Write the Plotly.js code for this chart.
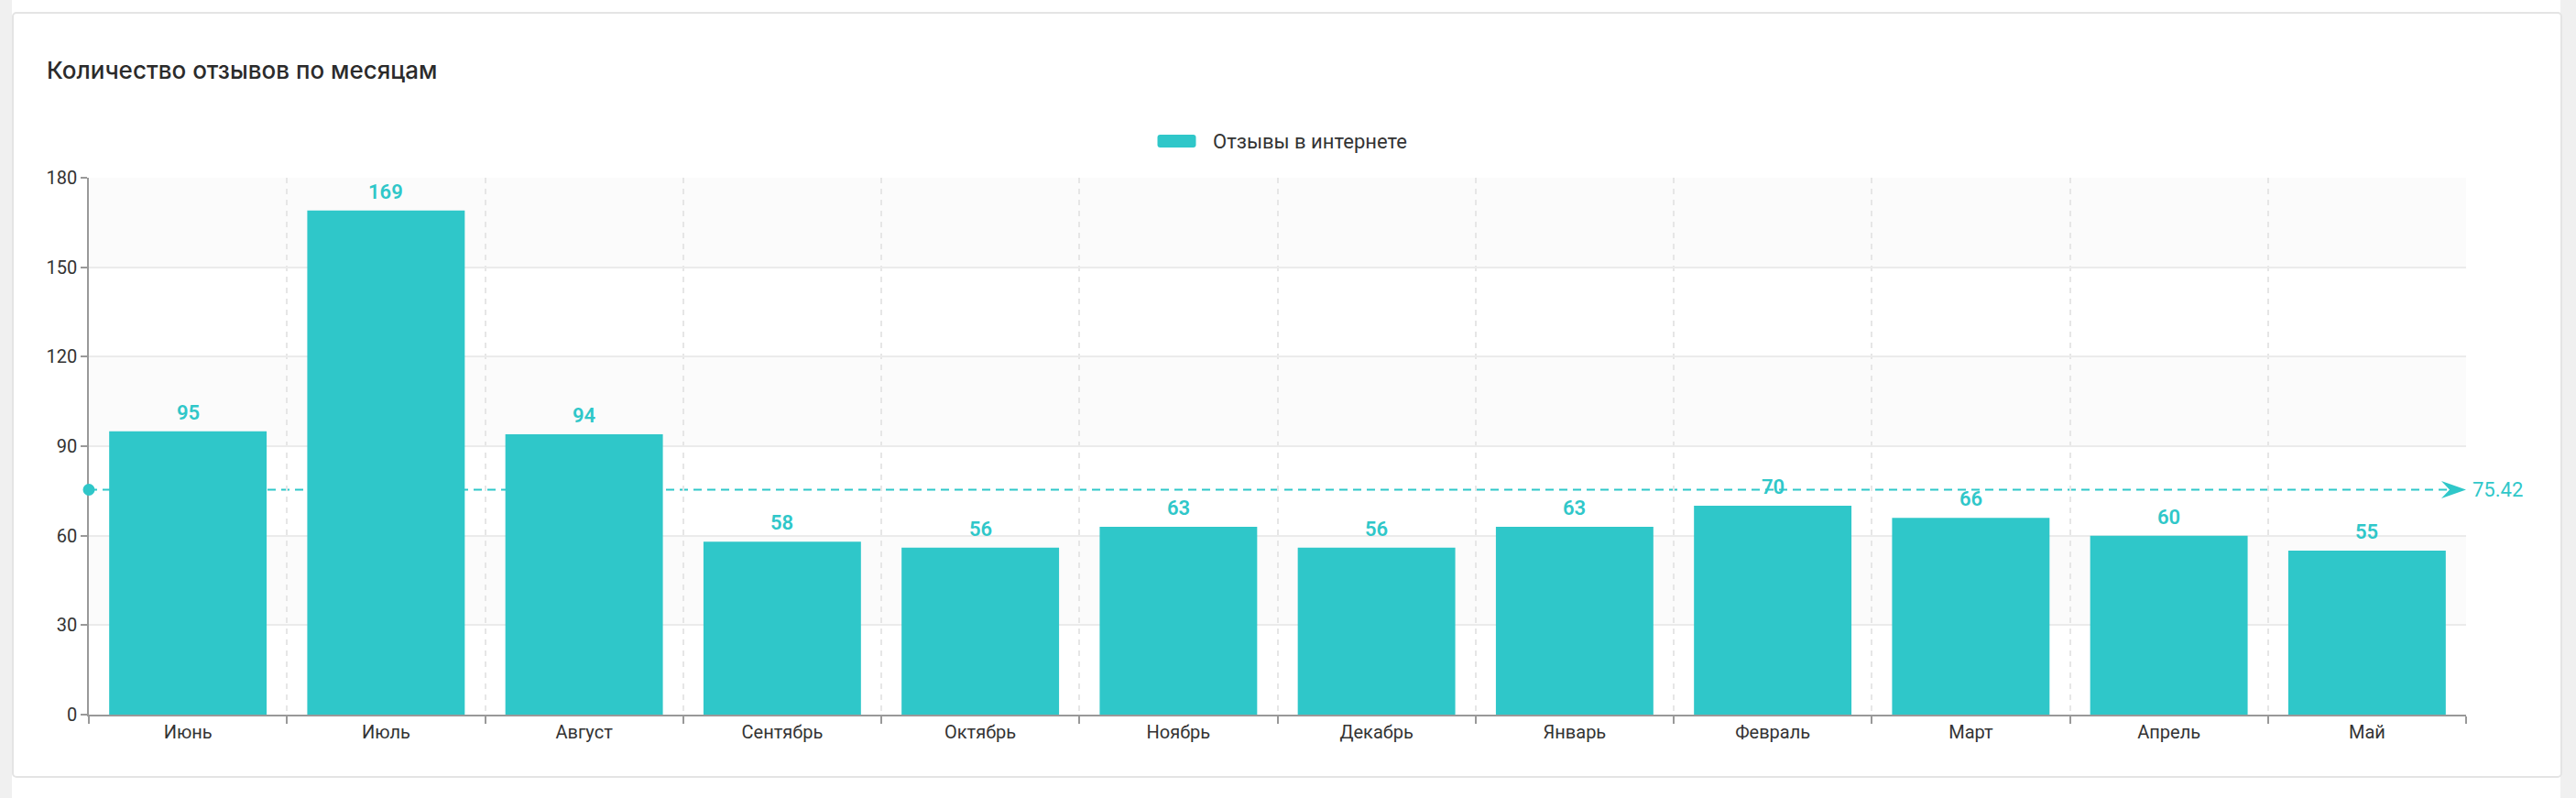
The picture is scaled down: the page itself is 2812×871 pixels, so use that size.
<!DOCTYPE html>
<html>
<head>
<meta charset="utf-8">
<script src="https://cdn.plot.ly/plotly-3.0.1.min.js"></script>
<style>
  html, body { margin: 0; padding: 0; width: 2812px; height: 871px; background: #ffffff; overflow: hidden; }
  #stripL { position: absolute; left: 0; top: 0; width: 13px; height: 871px; background: #f0f0f0; }
  #stripR { position: absolute; left: 2795px; top: 0; width: 17px; height: 871px; background: #f0f0f0; }
  #card { position: absolute; left: 13px; top: 13px; width: 2780px; height: 832px; background: #fff;
          border: 2px solid #e4e4e4; border-radius: 5px; }
  #chart { position: absolute; left: 0; top: 0; width: 2812px; height: 871px; }
</style>
</head>
<body>
<div id="stripL"></div>
<div id="stripR"></div>
<div id="card"></div>
<div id="chart"></div>
<script>
const months = ["Июнь", "Июль", "Август", "Сентябрь", "Октябрь", "Ноябрь", "Декабрь", "Январь", "Февраль", "Март", "Апрель", "Май"];
const reviews = [95, 169, 94, 58, 56, 63, 56, 63, 70, 66, 60, 55];
const seriesName = "Отзывы в интернете";
const chartTitle = "Количество отзывов по месяцам";
const yTicks = [0, 30, 60, 90, 120, 150, 180];

const teal = "#2fc7c9";
const mean = reviews.reduce((a, b) => a + b, 0) / reviews.length;

const bar = {
  type: "bar",
  x: months,
  y: reviews,
  name: seriesName,
  marker: { color: teal },
  hoverinfo: "x+y",
  showlegend: false
};

const labelAnns = months.map((m, i) => ({
  x: m, y: reviews[i], xref: "x", yref: "y",
  text: String(reviews[i]), showarrow: false,
  yanchor: "bottom", yshift: 6,
  font: { family: "Roboto", size: 22, color: teal, weight: 600 }
}));

// split area bands (alternate)
const bands = [];
for (let i = 1; i < yTicks.length - 1; i += 2) {
  bands.push({ type: "rect", xref: "paper", yref: "y", x0: 0, x1: 1, y0: yTicks[i], y1: yTicks[i + 1],
               fillcolor: "#fbfbfb", line: { width: 0 }, layer: "below" });
}

const shapes = bands.concat([
  { type: "line", xref: "paper", yref: "y", x0: 0, x1: 1, y0: mean, y1: mean,
    line: { color: teal, width: 2, dash: "9px,6px" }, layer: "between" },
  { type: "circle", xref: "paper", yref: "y", xsizemode: "pixel", ysizemode: "pixel",
    xanchor: 0, yanchor: mean, x0: -6.5, x1: 6.5, y0: -6.5, y1: 6.5,
    fillcolor: teal, line: { width: 0 }, layer: "above" },
  { type: "path", xref: "paper", yref: "y", xsizemode: "pixel", ysizemode: "pixel",
    xanchor: 1, yanchor: mean, path: "M0,0 L-27,9.5 L-18,0 L-27,-9.5 Z",
    fillcolor: teal, line: { width: 0 }, layer: "above" },
  // legend swatch
  { type: "path", xref: "paper", yref: "paper", xsizemode: "pixel", ysizemode: "pixel",
    xanchor: 0.5, yanchor: 1,
    path: "M-128,33 H-92 Q-89,33 -89,36 V44 Q-89,47 -92,47 H-128 Q-131,47 -131,44 V36 Q-131,33 -128,33 Z",
    fillcolor: teal, line: { width: 0 }, layer: "above" }
]);

const anns = labelAnns.concat([
  { x: 1, xref: "paper", y: mean, yref: "y", xanchor: "left", yanchor: "middle", xshift: 5,
    text: mean.toFixed(2), showarrow: false,
    font: { family: "Roboto", size: 22, color: teal } },
  { x: 0.5, xref: "paper", y: 1, yref: "paper", xanchor: "left", yanchor: "middle",
    xshift: -73, yshift: 40, text: seriesName, showarrow: false,
    font: { family: "Roboto", size: 22, color: "#333" } }
]);

const layout = {
  width: 2812, height: 871,
  paper_bgcolor: "rgba(0,0,0,0)",
  plot_bgcolor: "rgba(0,0,0,0)",
  margin: { l: 97, r: 120, t: 194, b: 91 },
  title: {
    text: chartTitle, x: 51 / 2812, xref: "container", xanchor: "left",
    y: 1 - 77 / 871, yref: "container", yanchor: "middle",
    font: { family: "Inter", size: 26, color: "#2b2b2b", weight: 500 }
  },
  showlegend: false,
  bargap: 0.205,
  xaxis: {
    type: "category",
    tickson: "boundaries",
    ticks: "outside", ticklen: 8, tickcolor: "#999", tickwidth: 1.5,
    showline: true, linecolor: "#999", linewidth: 1.5,
    showgrid: true, gridcolor: "#e6e6e6", griddash: "6px,6px", gridwidth: 1.5,
    tickfont: { family: "Roboto", size: 20, color: "#333" },
    fixedrange: true, zeroline: false
  },
  yaxis: {
    range: [0, 180], tickvals: yTicks,
    ticks: "outside", ticklen: 7, tickcolor: "#999", tickwidth: 1.5,
    showline: true, linecolor: "#999", linewidth: 1.5,
    showgrid: true, gridcolor: "#ebebeb", gridwidth: 1.5,
    zeroline: false,
    tickfont: { family: "Roboto", size: 20, color: "#333" },
    fixedrange: true
  },
  shapes: shapes,
  annotations: anns
};

Plotly.newPlot("chart", [bar], layout, { displayModeBar: false });
</script>
</body>
</html>
